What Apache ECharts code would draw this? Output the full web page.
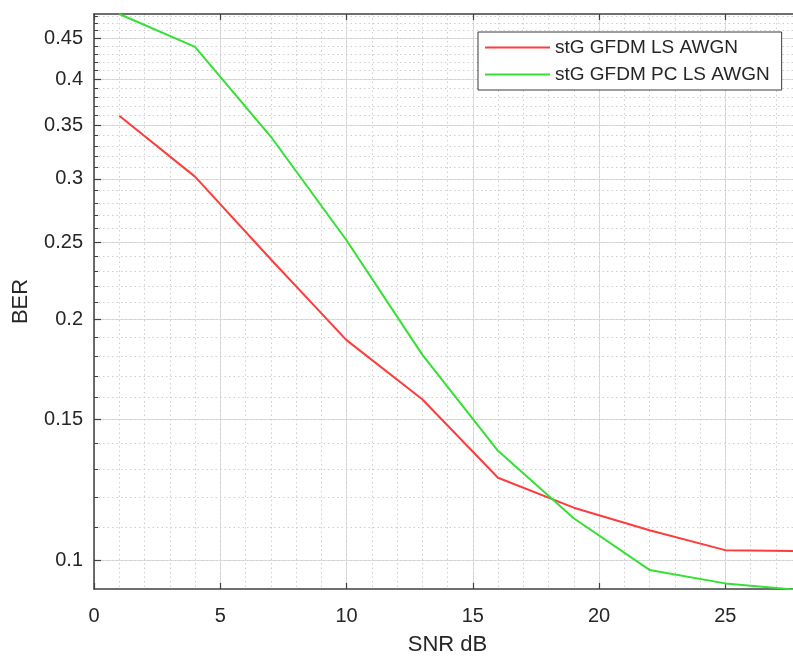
<!DOCTYPE html>
<html>
<head>
<meta charset="utf-8">
<script src="https://cdn.jsdelivr.net/npm/echarts@6/dist/echarts.min.js"></script>
<style>
  html, body { margin: 0; padding: 0; background: #ffffff; }
  #chart { width: 793px; height: 657px; }
</style>
</head>
<body>
<div id="chart"></div>
<script>
// SNR points (dB)
const snr = [1, 4, 7, 10, 13, 16, 19, 22, 25, 28];
// Bit error rate per SNR point
const berLS   = [0.360, 0.302, 0.238, 0.1885, 0.159, 0.1268, 0.1163, 0.109, 0.1029, 0.1026];
const berPCLS = [0.4826, 0.4389, 0.339, 0.2514, 0.1808, 0.137, 0.1128, 0.0972, 0.0935, 0.0917];
// Labelled BER ticks and the fine grid between them
const berTicks = [0.1, 0.15, 0.2, 0.25, 0.3, 0.35, 0.4, 0.45];
const berMinorTicks = [0.1, 0.11, 0.12, 0.13, 0.14, 0.15, 0.16, 0.17, 0.18, 0.19, 0.2,
  0.21, 0.22, 0.23, 0.24, 0.25, 0.26, 0.27, 0.28, 0.29, 0.3, 0.31, 0.32, 0.33, 0.34,
  0.35, 0.36, 0.37, 0.38, 0.39, 0.4, 0.41, 0.42, 0.43, 0.44, 0.45, 0.46, 0.47, 0.48];
const seriesNames = ['stG GFDM LS AWGN', 'stG GFDM PC LS AWGN'];

const FONT = "'Liberation Sans', Arial, Helvetica, sans-serif";
const TEXT = '#262626';
const AXIS = '#404040';
const X_MIN = 0, X_MAX = 28;
const Y_MIN = 0.092, Y_MAX = 0.4826;
const LINE_ICON = 'path://M0,0 H65 V2 H0 Z';

const chart = echarts.init(document.getElementById('chart'), null, { renderer: 'canvas' });

const toPairs = (xs, ys) => xs.map((x, i) => [x, ys[i]]);

chart.setOption({
  animation: false,
  backgroundColor: '#ffffff',
  grid: { left: 94, top: 14, width: 707, height: 575, containLabel: false, outerBoundsMode: 'none' },
  legend: {
    orient: 'vertical',
    left: 478, top: 32,
    padding: [6, 12, 6, 7],
    itemWidth: 65, itemHeight: 20, itemGap: 8,
    icon: LINE_ICON,
    backgroundColor: '#ffffff',
    borderColor: '#3a3a3a', borderWidth: 1,
    textStyle: { fontFamily: FONT, fontSize: 19, color: TEXT },
    data: seriesNames
  },
  xAxis: [
    {
      type: 'value', min: X_MIN, max: X_MAX, interval: 5,
      name: 'SNR dB', nameLocation: 'middle', nameGap: 45,
      nameTextStyle: { fontFamily: FONT, fontSize: 22, color: TEXT },
      axisLine: { show: true, onZero: false, lineStyle: { color: AXIS, width: 1.5 } },
      axisTick: { show: true, inside: true, length: 6, lineStyle: { color: AXIS, width: 1.2 } },
      axisLabel: { fontFamily: FONT, fontSize: 20, color: TEXT, margin: 17, showMaxLabel: false },
      splitLine: { show: true, lineStyle: { color: '#dcdcdc', width: 1 } }
    },
    {
      // fine dotted grid every 1 dB
      type: 'value', min: X_MIN, max: X_MAX, interval: 1, position: 'bottom',
      axisLine: { show: false }, axisTick: { show: false }, axisLabel: { show: false },
      splitLine: { show: true, lineStyle: { color: '#cfcfcf', width: 1, type: [1.5, 3] } }
    },
    {
      // top frame with its ticks
      type: 'value', min: X_MIN, max: X_MAX, interval: 5, position: 'top',
      axisLine: { show: true, onZero: false, lineStyle: { color: AXIS, width: 1.5 } },
      axisTick: { show: true, inside: true, length: 6, lineStyle: { color: AXIS, width: 1.2 } },
      axisLabel: { show: false },
      splitLine: { show: false }
    }
  ],
  yAxis: [
    {
      type: 'log', logBase: 10, min: Y_MIN, max: Y_MAX, position: 'left',
      name: 'BER', nameLocation: 'middle', nameGap: 62,
      nameTextStyle: { fontFamily: FONT, fontSize: 22, color: TEXT },
      axisLine: { show: true, onZero: false, lineStyle: { color: AXIS, width: 1.5 } },
      axisTick: { show: true, inside: true, length: 7, customValues: berTicks, lineStyle: { color: AXIS, width: 1.2 } },
      axisLabel: { fontFamily: FONT, fontSize: 20, color: TEXT, margin: 11, customValues: berTicks,
        formatter: v => String(+v.toFixed(2)) },
      splitLine: { show: true, lineStyle: { color: '#dcdcdc', width: 1 } }
    },
    {
      type: 'log', logBase: 10, min: Y_MIN, max: Y_MAX, position: 'left', offset: 0,
      axisLine: { show: false },
      axisTick: { show: true, inside: true, length: 4, customValues: berMinorTicks, lineStyle: { color: AXIS, width: 1 } },
      axisLabel: { show: false },
      splitLine: { show: true, lineStyle: { color: '#cfcfcf', width: 1, type: [1.5, 3] } }
    }
  ],
  series: [
    {
      name: seriesNames[0], type: 'line', xAxisIndex: 0, yAxisIndex: 0,
      data: toPairs(snr, berLS), symbol: 'none', clip: true,
      lineStyle: { color: '#ff3b3b', width: 2 }, itemStyle: { color: '#ff3b3b' }, z: 5
    },
    {
      name: seriesNames[1], type: 'line', xAxisIndex: 0, yAxisIndex: 0,
      data: toPairs(snr, berPCLS), symbol: 'none', clip: true,
      lineStyle: { color: '#33e033', width: 2 }, itemStyle: { color: '#33e033' }, z: 5
    }
  ]
});
</script>
</body>
</html>
